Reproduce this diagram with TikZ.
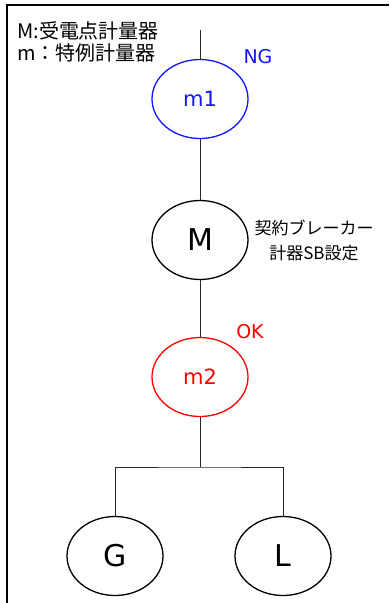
\documentclass[tikz,border=0pt]{standalone}
\usepackage{fontspec}
\setmainfont{DejaVu Sans}
\newfontfamily\jp{Noto Sans CJK JP}
\usetikzlibrary{shapes.geometric}
\definecolor{myblue}{RGB}{20,20,255}
\definecolor{myred}{RGB}{255,0,0}
\begin{document}
\begin{tikzpicture}[x=1pt,y=-1pt,
  meter/.style={ellipse,draw,line width=1.3pt,minimum width=96pt,minimum height=79pt,inner sep=0pt},
  wire/.style={draw=black!85,line width=0.8pt},
  frame/.style={line width=1.8pt},
  bigtxt/.style={font=\fontsize{30}{32}\selectfont},
  midtxt/.style={font=\fontsize{21}{24}\selectfont},
  flag/.style={font=\fontsize{19}{22}\selectfont}]
\useasboundingbox (0,0) rectangle (389,603);
\draw[frame] (7,603) -- (7,5) -- (389,5);
\node[anchor=west,font=\jp\fontsize{20}{22}\selectfont,inner sep=0pt] (leg1) at (17,31) {M:受電点計量器};
\node[anchor=west,font=\jp\fontsize{20}{22}\selectfont,inner sep=0pt] (leg2) at (17,53) {m：特例計量器};
\coordinate (top) at (200,30);
\node[meter,draw=myblue,text=myblue,midtxt] (m1) at (200,99) {m1};
\node[flag,text=myblue] (ng) at (258,57) {NG};
\node[meter,bigtxt] (M) at (200,240) {M};
\node[align=center,font=\jp\fontsize{17}{25}\selectfont,inner sep=0pt] (lblM) at (314,240) {契約ブレーカー\\計器SB設定};
\node[meter,draw=myred,text=myred,midtxt] (m2) at (200,377) {m2};
\node[flag,text=myred] (ok) at (250,332) {OK};
\coordinate (br) at (200,467);
\node[meter,bigtxt] (G) at (115,556) {G};
\node[meter,bigtxt] (L) at (283,556) {L};
\draw[wire] (top) -- (m1);
\draw[wire] (m1) -- (M);
\draw[wire] (M) -- (m2);
\draw[wire] (m2) -- (br);
\draw[wire] (G) |- (br) -| (L);
\end{tikzpicture}
\end{document}
